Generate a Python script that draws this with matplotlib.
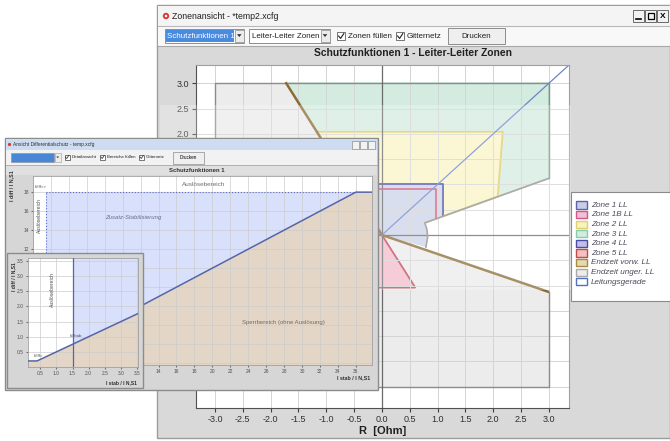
"""
Zonenansicht (Leiter-Leiter Zonen) mit Differentialschutz-Fenster davor
"""

import numpy as np
import matplotlib.pyplot as plt
from matplotlib.patches import Rectangle, Polygon, Circle
from matplotlib.ticker import FormatStrFormatter

plt.rcParams['font.family'] = ['Liberation Sans', 'DejaVu Sans']
plt.rcParams['axes.unicode_minus'] = False

W, H = 670, 441

# ---- R/X diagram, values in Ohm ----
rx_ticks = [-3.0, -2.5, -2.0, -1.5, -1.0, -0.5, 0.0, 0.5, 1.0, 1.5, 2.0, 2.5, 3.0]

box_R = [3.0, 3.0, -3.0, -3.0, 3.0, 3.0]          # Endzeit unger. LL outline
box_X = [1.12, 3.0, 3.0, -3.0, -3.0, -1.12]
wedge_R = [0.0, -1.72, 3.0, 3.0]                    # Endzeit vorw. LL area
wedge_X = [0.0, 3.0, 3.0, -1.12]
vorw_R = [-1.72, 0.0, 2.98]                         # Endzeit vorw. LL border
vorw_X = [3.0, 0.0, -1.12]
zone3_R = [0.0, -1.72, 3.0, 3.0, 0.77]
zone3_X = [0.0, 3.0, 3.0, 1.12, 0.24]
zone2_R = [0.0, -1.18, 2.17, 2.08, 0.77]
zone2_X = [0.0, 2.04, 2.04, 0.76, 0.24]
zone1_R = [-0.45, 1.10, 1.10, 0.77, 0.81, 0.82, 0.79, 0.0, -0.45]
zone1_X = [1.00, 1.00, 0.37, 0.24, 0.10, -0.05, -0.24, 0.0, 0.0]
zone1_line_R = [-0.45, 1.10, 1.10]
zone1_line_X = [1.00, 1.00, 0.37]
zone1b_line_R = [-0.45, 0.97, 0.97]
zone1b_line_X = [0.90, 0.90, 0.33]
zone5_R = [-0.6, 0.0, 0.60, -0.6]
zone5_X = [0.0, 0.0, -1.04, -1.04]
load_R = [3.0, 0.77, 0.81, 0.82, 0.79]
load_X = [1.12, 0.24, 0.10, -0.05, -0.24]
line_R = [0.0, 3.36]                                # Leitungsgerade
line_X = [0.0, 3.36]

legend_labels = ['Zone 1 LL', 'Zone 1B LL', 'Zone 2 LL', 'Zone 3 LL', 'Zone 4 LL',
                 'Zone 5 LL', 'Endzeit vorw. LL', 'Endzeit unger. LL', 'Leitungsgerade']
legend_edge = ['#5b64a8', '#d0588a', '#e2d070', '#88cca8', '#4c4ca8',
               '#c84848', '#a88a40', '#a8a8a8', '#5070c8']
legend_face = ['#c9cde8', '#f2c0d4', '#f8f2bc', '#d2ecdf', '#c0c0e6',
               '#f4c0c0', '#e6d8b0', '#ececec', 'white']

# ---- Differentialschutz, I/IN,S1 ----
diff_stab = [0.0, 0.4, 36.0, 37.8]
diff_idiff = [0.2, 0.2, 18.0, 18.0]
stab_min = 1.5
idiff_hi = 18.0
diff_xticks = list(range(0, 38, 2))
diff_yticks = list(range(0, 20, 2))
det_ticks = [0.5, 1.0, 1.5, 2.0, 2.5, 3.0, 3.5]

fig = plt.figure(figsize=(W / 100, H / 100), dpi=100)
fig.patch.set_facecolor('white')


def layer(z):
    a = fig.add_axes([0, 0, 1, 1], zorder=z)
    a.set_xlim(0, W)
    a.set_ylim(H, 0)
    a.axis('off')
    return a


def px_axes(x0, y0, x1, y1, z):
    return fig.add_axes([x0 / W, 1 - y1 / H, (x1 - x0) / W, (y1 - y0) / H], zorder=z)


def box(a, x0, y0, x1, y1, fc, ec='none', lw=0.8, alpha=1.0):
    a.add_patch(Rectangle((x0, y0), x1 - x0, y1 - y0, fc=fc, ec=ec, lw=lw, alpha=alpha))


def arrow(a, x, y, s=1.0):
    a.add_patch(Polygon([[x - 2.3 * s, y - 1.3 * s], [x + 2.3 * s, y - 1.3 * s], [x, y + 1.5 * s]],
                        fc='#303030'))


def check(a, x, y, s, label, fs):
    box(a, x, y, x + s, y + s, 'white', '#606060', 0.6)
    a.plot([x + 0.2 * s, x + 0.45 * s, x + 0.85 * s], [y + 0.5 * s, y + 0.8 * s, y + 0.2 * s],
           color='#202020', lw=0.8 * s / 8)
    a.text(x + s + 3 * s / 8, y + s / 2, label, fontsize=fs, va='center', color='#202020')


# ============ main window ============
c0 = layer(0)
box(c0, 157, 5, 670, 438, '#d9d9d9', '#9c9c9c', 1.0)
box(c0, 158, 6, 670, 26, '#f4f4f4')
c0.plot([158, 670], [26, 26], color='#b8b8b8', lw=0.8)
c0.add_patch(Circle((166, 16), 3.2, fc='#d83a3a', ec='none'))
c0.add_patch(Circle((166, 16), 1.2, fc='white', ec='none'))
c0.text(172, 16.3, 'Zonenansicht - *temp2.xcfg', fontsize=6.3, va='center', color='#202020')
for bx in (633, 645, 657):
    box(c0, bx, 10, bx + 11, 22, '#f2f2f2', '#6a6a6a', 0.7)
c0.plot([636, 641], [19, 19], color='black', lw=1.2)
box(c0, 648, 13, 654, 19, 'none', 'black', 0.9)
c0.text(662.5, 16.3, 'X', fontsize=6, fontweight='bold', ha='center', va='center')

box(c0, 158, 27, 670, 46, '#f8f8f8')
c0.plot([158, 670], [46, 46], color='#a8a8a8', lw=0.8)
box(c0, 165, 29, 244, 43, 'white', '#8c8c8c', 0.7)
box(c0, 166, 30, 234, 42, '#4a8be0')
c0.text(167, 36.3, 'Schutzfunktionen 1', fontsize=5.8, color='white', va='center')
box(c0, 235, 30, 243.5, 42, '#ececec', '#9a9a9a', 0.6)
arrow(c0, 239.3, 35.5)
box(c0, 249, 29, 330, 43, 'white', '#8c8c8c', 0.7)
c0.text(252, 36.3, 'Leiter-Leiter Zonen', fontsize=5.8, color='#202020', va='center')
box(c0, 320.5, 30, 329.5, 42, '#ececec', '#9a9a9a', 0.6)
arrow(c0, 325, 35.5)
check(c0, 337, 32, 8, 'Zonen füllen', 5.8)
check(c0, 396, 32, 8, 'Gitternetz', 5.8)
box(c0, 448, 28, 505, 44, '#efefef', '#8c8c8c', 0.7)
c0.text(476.5, 36.3, 'Drucken', fontsize=5.8, ha='center', va='center', color='#202020')
c0.text(413, 53.5, 'Schutzfunktionen 1 - Leiter-Leiter Zonen', fontsize=7.4,
        fontweight='bold', ha='center', va='center', color='#202020')

box(c0, 571, 192, 672, 301, 'white', '#8a8a8a', 0.8)
for i, (lab, ec, fc) in enumerate(zip(legend_labels, legend_edge, legend_face)):
    y = 205 + i * 9.6
    box(c0, 576, y - 3.6, 587, y + 3.6, fc, ec, 1.0)
    c0.text(591, y + 0.3, lab, fontsize=5.9, style='italic', color='#4a4a5a', va='center')

# R/X diagram
ax = px_axes(196, 65, 569, 408, 1)
ax.set_xlim(-3.34, 3.36)
ax.set_ylim(-3.42, 3.36)
ax.set_xticks(rx_ticks)
ax.xaxis.set_major_formatter(FormatStrFormatter('%.1f'))
# y labels between -2.5 and 1.5 lie under the Differentialschutz window
ax.set_yticks(rx_ticks, ['%.1f' % v if (v >= 2.0 or v <= -3.0) else '' for v in rx_ticks])
ax.tick_params(labelsize=6.5, length=3, color='#404040', labelcolor='#303030', pad=2)
for side in ('left', 'bottom'):
    ax.spines[side].set_color('#505050')
for side in ('top', 'right'):
    ax.spines[side].set_color('#a0a0a0')
ax.grid(True, color='#d4d4d4', lw=0.7)
ax.set_axisbelow('line')
ax.set_xlabel('R  [Ohm]', fontsize=8, fontweight='bold', labelpad=1.5, color='#202020')

ax.add_patch(Rectangle((-3.0, -3.0), 6.0, 6.0, fc='#ececec', ec='none', zorder=0.5))
ax.add_patch(Polygon(np.column_stack([wedge_R, wedge_X]), fc='white', ec='none', zorder=0.6))
ax.plot(box_R, box_X, color='#8c8c8c', lw=1.0, zorder=2)
ax.add_patch(Polygon(np.column_stack([zone3_R, zone3_X]), fc='#d4ebe0', ec='#a8d8c0', lw=1.0, zorder=0.7))
ax.add_patch(Polygon(np.column_stack([zone2_R, zone2_X]), fc='#faf5c6', ec='#e0cc60', lw=1.3, zorder=0.8))
ax.add_patch(Polygon(np.column_stack([zone1_R, zone1_X]), fc='#cdd3ea', ec='none', zorder=0.9))
ax.add_patch(Polygon(np.column_stack([zone5_R, zone5_X]), fc='#f3bccb', ec='#c04858', lw=1.3, zorder=0.9))
ax.axhline(0, color='#6a6a6a', lw=0.9, zorder=2.1)
ax.axvline(0, color='#6a6a6a', lw=0.9, zorder=2.1)
ax.plot(zone1_line_R, zone1_line_X, color='#5058b0', lw=1.4, zorder=2.2)
ax.plot(zone1b_line_R, zone1b_line_X, color='#d0507a', lw=1.2, zorder=2.3)
ax.plot(load_R, load_X, color='#909088', lw=1.2, zorder=2.2)
ax.plot(vorw_R, vorw_X, color='#8c6c34', lw=1.8, zorder=2.4)
ax.plot(line_R, line_X, color='#6a84cc', lw=0.9, zorder=2.5)

ov = layer(1.5)
box(ov, 160, 105, 571, 290, 'white', alpha=0.25)

# ============ Differentialschutz window ============
c1 = layer(3)
box(c1, 5, 138, 378, 390, '#d6d6d6', '#8c8c8c', 1.0)
box(c1, 6, 139, 377, 150, '#cddcf0')
c1.add_patch(Circle((9.5, 144.5), 1.6, fc='#d83a3a'))
c1.text(13, 144.7, 'Ansicht Differentialschutz - temp.xcfg', fontsize=3.5, va='center', color='#303030')
for bx in (352, 360, 368):
    box(c1, bx, 141, bx + 7, 148.5, '#f2f2f2', '#7a7a7a', 0.4)
box(c1, 6, 150, 377, 165, '#f2f2f2')
c1.plot([6, 377], [165, 165], color='#a8a8a8', lw=0.6)
box(c1, 11, 153, 54, 162, '#4a86d8', '#8c8c8c', 0.4)
box(c1, 54.5, 153, 61, 162, '#ececec', '#9a9a9a', 0.4)
arrow(c1, 57.7, 157.3, 0.6)
check(c1, 64.5, 154.5, 5, 'Detailansicht', 3.2)
check(c1, 100, 154.5, 5, 'Bereiche füllen', 3.2)
check(c1, 139, 154.5, 5, 'Gitternetz', 3.2)
box(c1, 173, 152, 204, 163.5, '#efefef', '#8c8c8c', 0.5)
c1.text(188.5, 157.8, 'Drucken', fontsize=3.3, ha='center', va='center')
box(c1, 6, 165, 377, 175, '#e0e0e0')
c1.text(197, 170.3, 'Schutzfunktionen 1', fontsize=4.3, fontweight='bold', ha='center', va='center',
        color='#303030')
c1.text(12, 186, 'I diff / I N,S1', fontsize=3.8, fontweight='bold', rotation=90,
        ha='center', va='center', color='#303030')
c1.text(370, 378, 'I stab / I N,S1', fontsize=3.8, fontweight='bold', ha='right', va='center',
        color='#303030')

knee_y = np.interp(stab_min, diff_stab, diff_idiff)
knee_x = np.interp(idiff_hi, diff_idiff[1:3], diff_stab[1:3])


def diff_fill(a, ylo):
    sperr = [(diff_stab[0], ylo)] + list(zip(diff_stab, diff_idiff)) + [(diff_stab[-1], ylo)]
    a.add_patch(Polygon(sperr, fc='#e3d6c6', ec='none', zorder=0.5))
    zusatz = [(stab_min, knee_y), (stab_min, idiff_hi), (knee_x, idiff_hi)]
    a.add_patch(Polygon(zusatz, fc='#d8e0fb', ec='none', zorder=0.5))
    a.plot(diff_stab, diff_idiff, color='#5565a8', lw=1.1, zorder=3)


ad = px_axes(33, 176, 372, 365, 4)
ad.set_xlim(0, 37.8)
ad.set_ylim(-0.2, 19.7)
# labels lying under the Detailansicht panel are not visible
ad.set_xticks(diff_xticks, [str(v) if v >= 14 else '' for v in diff_xticks])
ad.set_yticks(diff_yticks, [str(v) if v >= 12 else '' for v in diff_yticks])
ad.tick_params(labelsize=3.5, length=1.5, pad=1.5, color='#707070', labelcolor='#505050')
for s in ad.spines.values():
    s.set_color('#a0a0a0')
    s.set_linewidth(0.6)
ad.grid(True, color='#cccccc', lw=0.5)
ad.set_axisbelow('line')
diff_fill(ad, -1)
ad.plot([stab_min, knee_x], [idiff_hi, idiff_hi], ':', color='#5a6ad0', lw=0.8, zorder=3)
ad.plot([stab_min, stab_min], [knee_y, idiff_hi], ':', color='#5a6ad0', lw=0.8, zorder=3)
ad.text(19, 18.85, 'Auslösebereich', fontsize=4.6, color='#707070', ha='center', va='center')
ad.text(11.2, 15.3, 'Zusatz-Stabilisierung', fontsize=4.3, style='italic', color='#6a6a8a',
        ha='center', va='center')
ad.text(27.9, 4.3, 'Sperrbereich (ohne Auslösung)', fontsize=4.3, color='#7a6a5a',
        ha='center', va='center')
ad.text(0.2, 18.4, 'Idiff>>', fontsize=3.2, color='#505050')
ad.text(0.75, 15.5, 'Auslösebereich', fontsize=3.6, rotation=90, color='#505050',
        ha='center', va='center')

# ============ Detailansicht ============
c2 = layer(5)
box(c2, 7, 253, 143, 388, '#d6d6d6', '#8c8c8c', 1.0)
c2.text(14, 277, 'I diff / I N,S1', fontsize=3.6, fontweight='bold', rotation=90,
        ha='center', va='center', color='#303030')
c2.text(137, 382.5, 'I stab / I N,S1', fontsize=3.6, fontweight='bold', ha='right', va='center',
        color='#303030')

ai = px_axes(28, 258, 138, 367, 6)
ai.set_xlim(0.12, 3.53)
ai.set_ylim(0.0, 3.6)
ai.set_xticks(det_ticks)
ai.set_yticks(det_ticks)
ai.xaxis.set_major_formatter(FormatStrFormatter('%.1f'))
ai.yaxis.set_major_formatter(FormatStrFormatter('%.1f'))
ai.tick_params(labelsize=3.5, length=1.5, pad=1.5, color='#707070', labelcolor='#505050')
for s in ai.spines.values():
    s.set_color('#a0a0a0')
    s.set_linewidth(0.6)
ai.grid(True, color='#cccccc', lw=0.5)
ai.set_axisbelow('line')
diff_fill(ai, -1)
ai.axvline(stab_min, color='#5565a8', lw=0.9, zorder=3)
ai.text(0.3, 0.33, 'Idiff>', fontsize=3.2, color='#505050')
ai.text(1.42, 1.0, 'IdStab', fontsize=3.2, color='#505070')
ai.text(0.87, 2.55, 'Auslösebereich', fontsize=3.6, rotation=90, color='#505050',
        ha='center', va='center')

fig.savefig('out.png', dpi=100)
